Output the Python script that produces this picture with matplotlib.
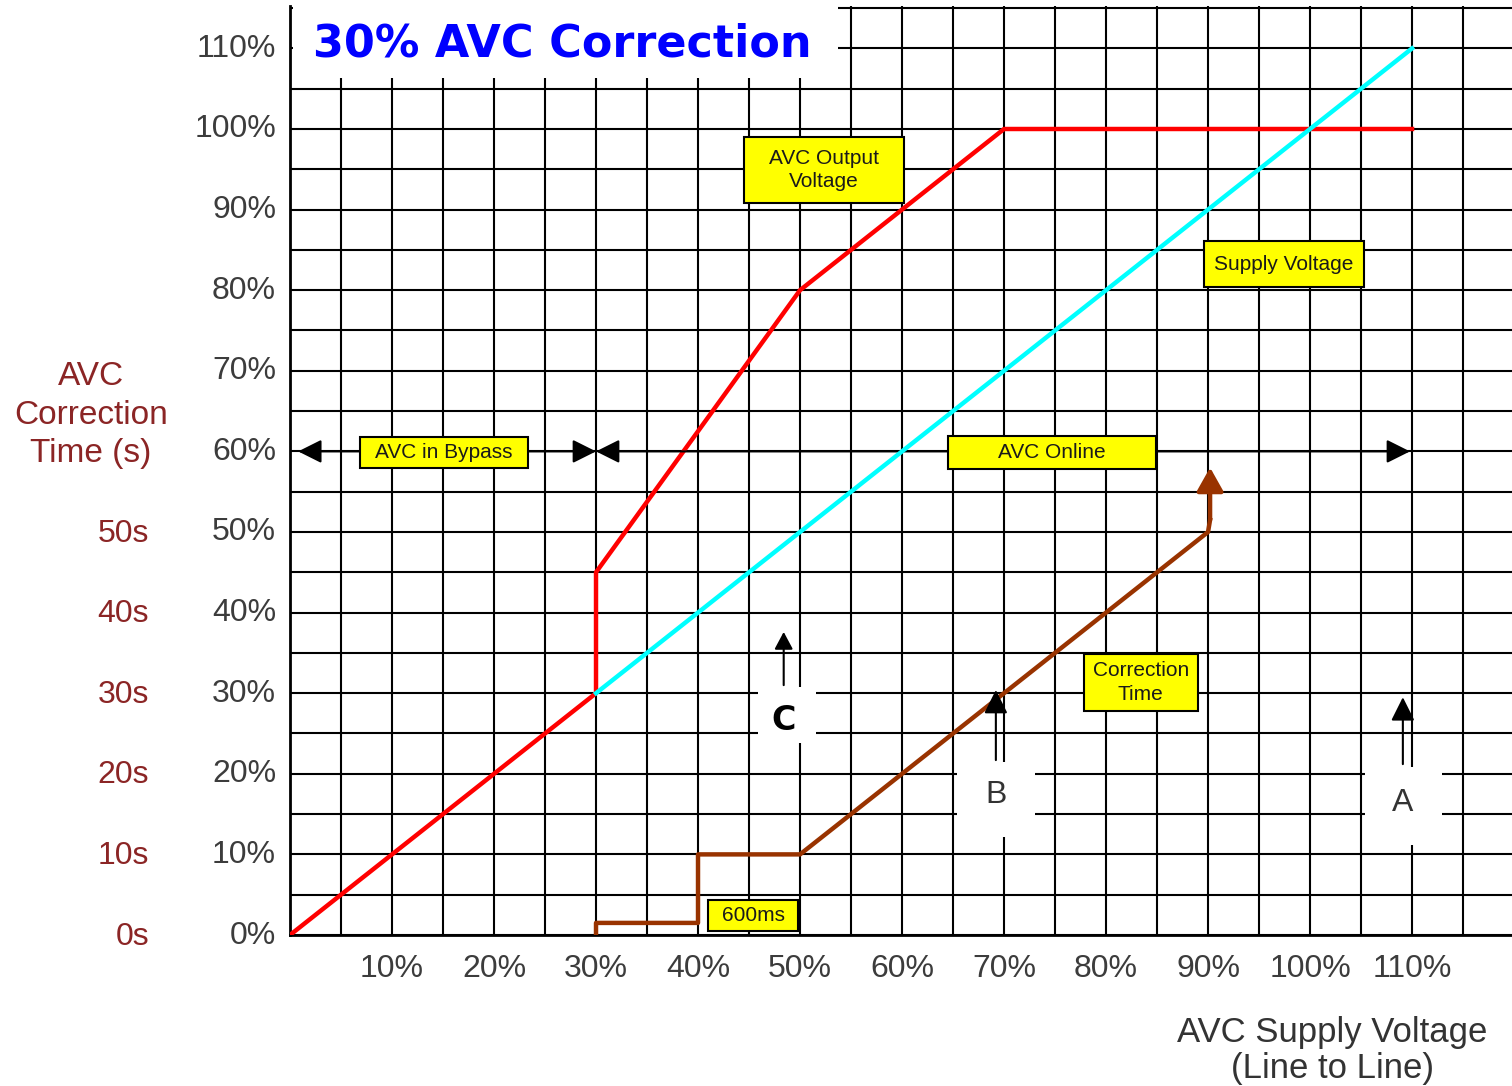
import matplotlib
matplotlib.use('Agg')
import matplotlib.pyplot as plt
import matplotlib.transforms as mtransforms
from matplotlib.patches import Rectangle

plt.rcParams['font.family'] = ['Liberation Sans', 'DejaVu Sans']

# data (percent of nominal)
supply_x = [30, 110]
supply_y = [30, 110]
output_x = [0, 30, 30, 50, 70, 110]
output_y = [0, 30, 45, 80, 100, 100]
corr_x = [30, 30, 40, 40, 50, 90, 90.2]
corr_y = [0, 1.5, 1.5, 10, 10, 50, 51.5]
corr_arrow_tip = 58

pct_ticks = list(range(0, 111, 10))
x_labels = ['10%', '20%', '30%', '40%', '50%', '60%', '70%', '80%', '90%', '100%', '110%']
y_labels = ['0%', '10%', '20%', '30%', '40%', '50%', '60%', '70%', '80%', '90%', '100%', '110%']
time_pos = [0, 10, 20, 30, 40, 50]
time_labels = ['0s', '10s', '20s', '30s', '40s', '50s']

W, H = 1512, 1086
fig = plt.figure(figsize=(W / 100, H / 100), dpi=100)
ax = fig.add_axes([290 / W, 151 / H, 1222 / W, 929 / H])
ax.set_xlim(0, 119.8)
ax.set_ylim(0, 115.26)

ax.set_xticks(pct_ticks[1:])
ax.set_xticklabels(x_labels)
ax.set_xticks(range(5, 120, 10), minor=True)
ax.set_yticks(pct_ticks)
ax.set_yticklabels(y_labels)
ax.set_yticks(range(5, 116, 10), minor=True)
ax.set_axisbelow(True)
ax.grid(which='both', color='black', lw=1.5)
ax.tick_params(which='both', length=0)
ax.tick_params(axis='y', pad=10, labelsize=23, labelcolor='#3c3c3c')
ax.tick_params(axis='x', pad=14, labelsize=23, labelcolor='#3c3c3c')
up = mtransforms.ScaledTranslation(0, 3 / 100, fig.dpi_scale_trans)
for lab in ax.get_yticklabels():
    lab.set_transform(lab.get_transform() + up)
for s in ['top', 'right']:
    ax.spines[s].set_visible(False)
for s in ['left', 'bottom']:
    ax.spines[s].set_linewidth(2)

# title area (covers grid)
ax.add_patch(Rectangle((0.25, 106.3), 53.5, 10, fc='white', ec='none', zorder=1, clip_on=False))
ax.text(2.3, 110.6, '30% AVC Correction', ha='left', va='center', fontsize=32,
        fontweight='bold', color='#0000ff', family='DejaVu Sans', zorder=5)

# curves
ax.plot(output_x, output_y, color='#ff0000', lw=3.2, zorder=3)
ax.plot(supply_x, supply_y, color='#00ffff', lw=3.2, zorder=3.2)
ax.plot(corr_x, corr_y, color='#993300', lw=3.2, zorder=3)
ax.annotate('', xy=(corr_x[-1], corr_arrow_tip), xytext=(corr_x[-1], corr_y[-1]),
            arrowprops=dict(arrowstyle='-|>,head_length=0.8,head_width=0.45', mutation_scale=18,
                            color='#993300', lw=3.2, shrinkA=0, shrinkB=0), zorder=3)

# bypass / online range arrows
arr = dict(arrowstyle='<|-|>,head_length=0.8,head_width=0.4', mutation_scale=18,
           color='black', lw=1.5, shrinkA=0, shrinkB=0)
ax.annotate('', xy=(0.8, 60), xytext=(30, 60), arrowprops=arr, zorder=3)
ax.annotate('', xy=(30, 60), xytext=(109.8, 60), arrowprops=arr, zorder=3)

# yellow labels: (x0, y0, x1, y1, text)
boxes = [
    (44.5, 90.8, 60.2, 99.0, 'AVC Output\nVoltage'),
    (89.6, 80.4, 105.3, 86.1, 'Supply Voltage'),
    (6.9, 57.9, 23.3, 61.8, 'AVC in Bypass'),
    (64.5, 57.8, 84.9, 61.9, 'AVC Online'),
    (77.8, 27.8, 89.0, 34.9, 'Correction\nTime'),
    (41.0, 0.5, 49.8, 4.3, '600ms'),
]
for x0, y0, x1, y1, t in boxes:
    ax.add_patch(Rectangle((x0, y0), x1 - x0, y1 - y0, fc='#ffff00', ec='black', lw=1.5, zorder=4))
    ax.text((x0 + x1) / 2, (y0 + y1) / 2, t, ha='center', va='center', fontsize=15,
            color='#1a1a1a', linespacing=1.3, zorder=5)

# C / B / A markers
for x0, y0, x1, y1 in [(45.9, 23.8, 51.6, 30.8), (65.4, 12.2, 73.0, 21.5), (105.4, 11.2, 112.9, 20.8)]:
    ax.add_patch(Rectangle((x0, y0), x1 - x0, y1 - y0, fc='white', ec='none', zorder=1))
ax.annotate('', xy=(48.4, 37.6), xytext=(48.4, 31.0),
            arrowprops=dict(arrowstyle='-|>,head_length=0.75,head_width=0.4', mutation_scale=14,
                            color='black', lw=1.5, shrinkA=0, shrinkB=0), zorder=4)
ax.text(48.4, 26.6, 'C', ha='center', va='center', fontsize=24, fontweight='bold',
        family='DejaVu Sans', color='black', zorder=5)
big = dict(arrowstyle='-|>,head_length=0.8,head_width=0.4', mutation_scale=18,
           color='black', lw=1.5, shrinkA=0, shrinkB=0)
ax.annotate('', xy=(69.2, 30.4), xytext=(69.2, 21.7), arrowprops=big, zorder=4)
ax.text(69.2, 17.4, 'B', ha='center', va='center', fontsize=23, color='#333333', zorder=5)
ax.annotate('', xy=(109.1, 29.5), xytext=(109.1, 21.2), arrowprops=big, zorder=4)
ax.text(109.1, 16.4, 'A', ha='center', va='center', fontsize=23, color='#333333', zorder=5)

# secondary time scale and axis titles
for v, lab in zip(time_pos, time_labels):
    ax.text(-13.8, v - 0.2, lab, ha='right', va='center', fontsize=23, color='#8b2525')
ax.text(-19.5, 64.5, 'AVC\nCorrection\nTime (s)', ha='center', va='center', fontsize=24,
        color='#8b2525', linespacing=1.3)
ax.text(102.2, -14.3, 'AVC Supply Voltage\n(Line to Line)', ha='center', va='center',
        fontsize=25, color='#333333', linespacing=1.1)

fig.savefig('out.png', dpi=100)
